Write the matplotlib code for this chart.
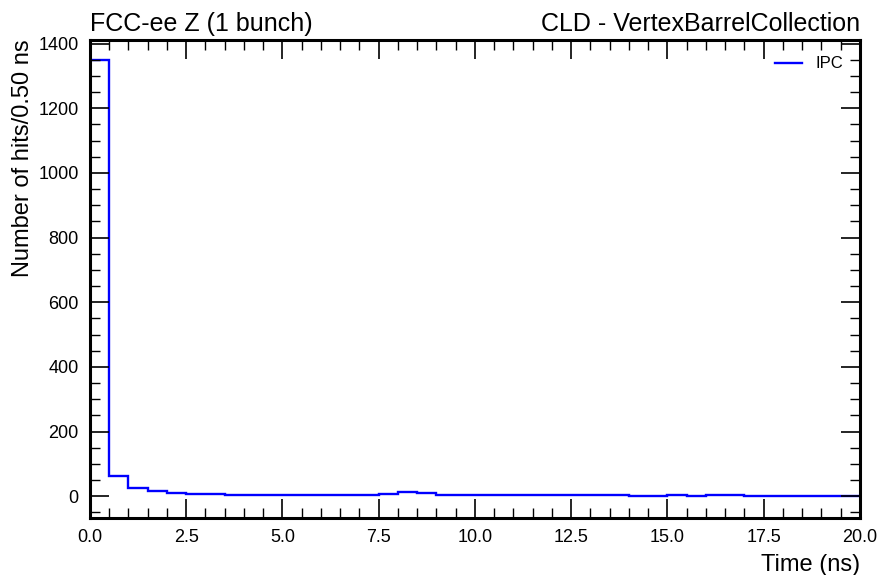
import matplotlib
matplotlib.use("Agg")
import matplotlib.pyplot as plt
import numpy as np
from matplotlib.ticker import MultipleLocator

plt.rcParams["font.family"] = ["Liberation Sans", "DejaVu Sans"]

# histogram of hit times, 0.5 ns bins from 0 to 20 ns
bin_edges = np.arange(0.0, 20.01, 0.5)
ipc_counts = [
    1348, 62, 26, 17, 11, 7, 6, 5, 4, 3,
    3, 3, 3, 3, 3, 6, 14, 10, 5, 3,
    3, 3, 3, 3, 3, 3, 3, 3, 0, 2,
    3, 2, 3, 3, 1, 1, 1, 1, 1, 2,
]

fig = plt.figure(figsize=(8.81, 5.75), dpi=100)
ax = fig.add_axes([0.102, 0.100, 0.874, 0.831])

ax.stairs(ipc_counts, bin_edges, color="#0000ff", lw=1.7, label="IPC")

ax.set_xlim(0, 20)
ax.set_ylim(-66, 1412)
ax.xaxis.set_major_locator(MultipleLocator(2.5))
ax.xaxis.set_minor_locator(MultipleLocator(0.5))
ax.yaxis.set_major_locator(MultipleLocator(200))
ax.yaxis.set_minor_locator(MultipleLocator(50))
ax.xaxis.set_major_formatter(matplotlib.ticker.FormatStrFormatter("%.1f"))

ax.tick_params(which="both", direction="in", top=True, right=True, labelsize=13)
ax.tick_params(which="major", length=14, width=1.2, pad=8)
ax.tick_params(which="minor", length=7, width=1.0)
for s in ax.spines.values():
    s.set_linewidth(2.2)

ax.set_xlabel("Time (ns)", loc="right", fontsize=17, labelpad=6)
ax.set_ylabel("Number of hits/0.50 ns", loc="top", fontsize=17, labelpad=3)
ax.set_title("FCC-ee Z (1 bunch)", loc="left", fontsize=18, pad=6)
ax.set_title("CLD - VertexBarrelCollection", loc="right", fontsize=18, pad=6)

ax.legend(loc="upper right", frameon=False, fontsize=12, handlelength=1.6,
          borderaxespad=0.6)

fig.savefig("out.png", dpi=100)
